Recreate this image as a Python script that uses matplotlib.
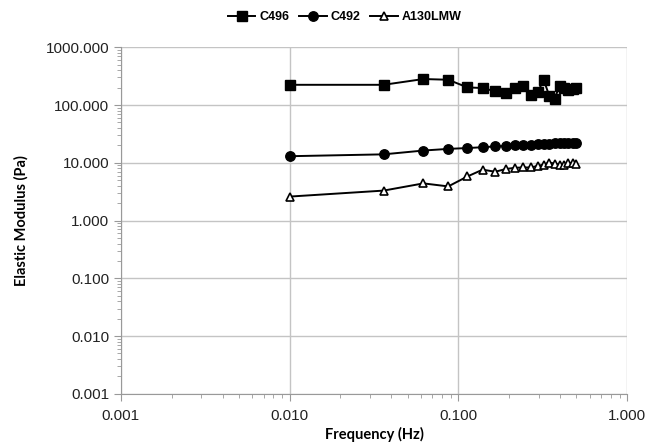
import matplotlib
matplotlib.use('Agg')
import matplotlib.pyplot as plt
from matplotlib.ticker import LogLocator, FuncFormatter, NullFormatter

# frequency sweep (Hz)
freq = [0.010, 0.036, 0.062, 0.087, 0.113, 0.139, 0.165, 0.191, 0.216, 0.242,
        0.268, 0.294, 0.320, 0.345, 0.371, 0.397, 0.423, 0.448, 0.474, 0.500]

# elastic modulus (Pa)
c496 = [224, 224, 282, 274, 202, 197, 173, 159, 194, 211,
        149, 166, 271, 145, 127, 216, 200, 180, 190, 200]
c492 = [13.0, 14.0, 16.3, 17.4, 18.0, 18.6, 19.2, 19.6, 20.0, 20.3,
        20.7, 21.0, 21.3, 21.5, 21.7, 21.9, 22.0, 22.2, 22.3, 22.0]
a130lmw = [2.6, 3.3, 4.4, 3.9, 5.8, 7.6, 7.0, 7.8, 8.2, 8.3,
           8.3, 8.8, 9.3, 10.1, 9.7, 9.3, 9.0, 9.8, 10.0, 9.7]

plt.rcParams['font.family'] = ['Liberation Sans', 'DejaVu Sans']

fig = plt.figure(figsize=(6.5, 4.46), dpi=100)
ax = fig.add_axes([0.186, 0.117, 0.779, 0.777])

ax.plot(freq, c496, 'k-s', lw=1.4, ms=6.8, label='C496')
ax.plot(freq, c492, 'k-o', lw=1.4, ms=6.8, label='C492')
ax.plot(freq, a130lmw, 'k-^', lw=1.4, ms=5.8, mfc='white', mew=1.2, label='A130LMW')

ax.set_xscale('log')
ax.set_yscale('log')
ax.set_xlim(0.001, 1.0)
ax.set_ylim(0.001, 1000.0)

fmt = FuncFormatter(lambda v, p: '%.3f' % v)
ax.xaxis.set_major_locator(LogLocator(base=10, numticks=10))
ax.yaxis.set_major_locator(LogLocator(base=10, numticks=10))
ax.xaxis.set_major_formatter(fmt)
ax.yaxis.set_major_formatter(fmt)
ax.xaxis.set_minor_locator(LogLocator(base=10, subs=range(2, 10), numticks=20))
ax.yaxis.set_minor_locator(LogLocator(base=10, subs=range(2, 10), numticks=20))
ax.xaxis.set_minor_formatter(NullFormatter())
ax.yaxis.set_minor_formatter(NullFormatter())

ax.grid(True, which='major', color='#c4c4c4', lw=1.0)
ax.set_axisbelow(True)
for s in ['top', 'right']:
    ax.spines[s].set_visible(False)
for s in ['left', 'bottom']:
    ax.spines[s].set_color('#999999')

ax.tick_params(which='major', length=5, color='#999999', labelsize=11, labelcolor='#222222')
ax.tick_params(axis='x', which='major', pad=6)
ax.tick_params(which='minor', length=3, color='#999999')

ax.set_xlabel('Frequency (Hz)', fontsize=10.5, fontweight='bold', family=['Lato', 'DejaVu Sans'], labelpad=3)
ax.set_ylabel('Elastic Modulus (Pa)', fontsize=10.5, fontweight='bold', family=['Lato', 'DejaVu Sans'], labelpad=12)

leg = fig.legend(loc='upper center', bbox_to_anchor=(0.53, 1.0), ncol=3, frameon=False,
                 handlelength=2.2, handletextpad=0.3, columnspacing=0.8,
                 prop={'family': ['Liberation Sans Narrow', 'Liberation Sans'], 'weight': 'bold', 'size': 9})

plt.savefig('out.png', dpi=100)
plt.close()
